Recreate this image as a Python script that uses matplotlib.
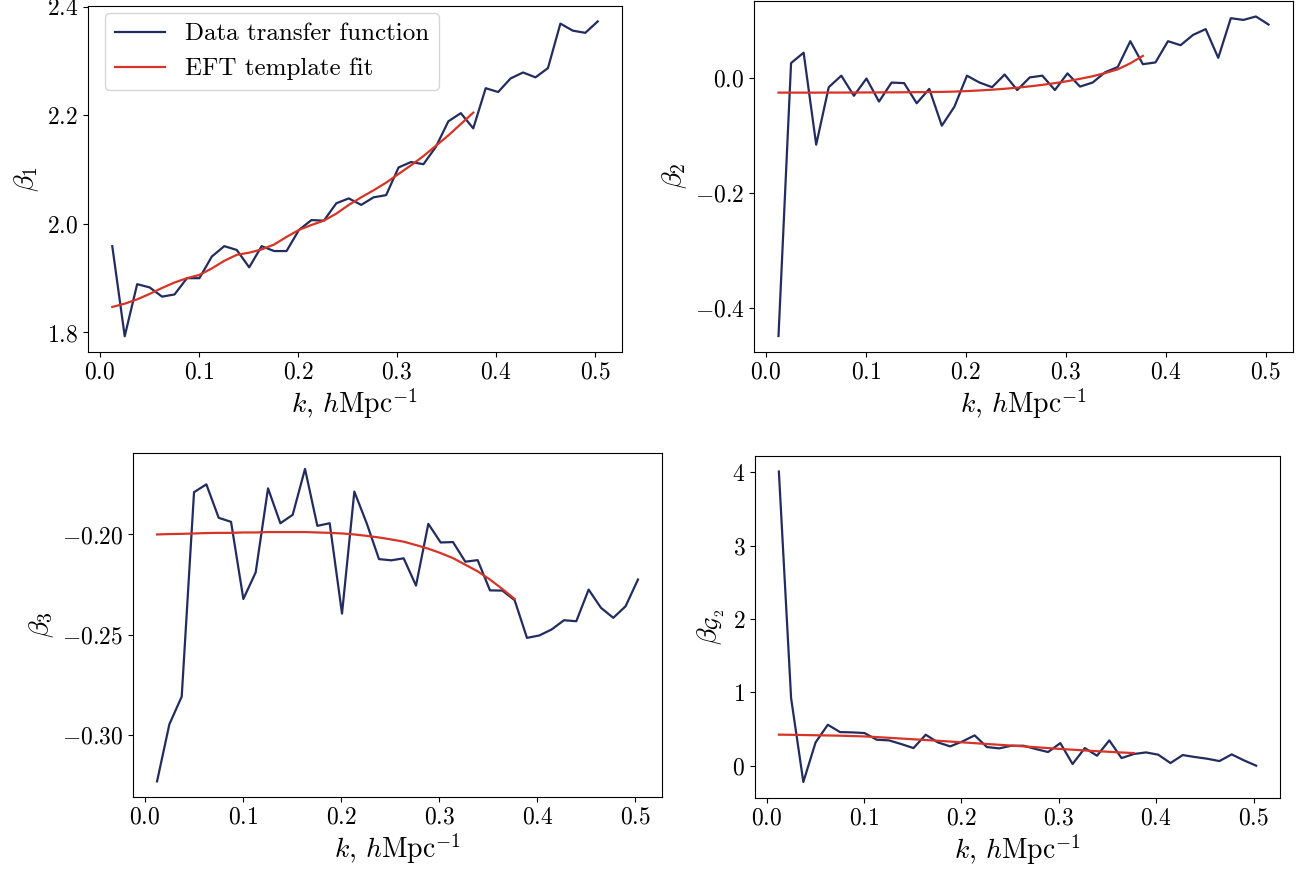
#!/usr/bin/env python3
"""Transfer functions beta_i(k) from data vs EFT template fit, 2x2 panels."""
import matplotlib
matplotlib.use('Agg')
import matplotlib.pyplot as plt
import numpy as np

plt.rcParams.update({
    'font.family': 'serif',
    'font.serif': ['cmr10'],
    'mathtext.fontset': 'cm',
    'axes.formatter.use_mathtext': True,
    'axes.unicode_minus': True,
    'font.size': 17,
    'xtick.labelsize': 17,
    'ytick.labelsize': 17,
    'axes.labelsize': 20,
    'legend.fontsize': 18,
    'lines.linewidth': 1.6,
})

BLUE = '#232c5e'
RED = '#d63426'

# k bins (fundamental mode of a 500 Mpc/h box), 40 data bins, fit uses first 30
k_data = 2 * np.pi / 500 * np.arange(1, 41)
k_fit = k_data[:30]

# --- beta_1 ---
b1_data = [1.959, 1.793, 1.889, 1.883, 1.866, 1.870, 1.900, 1.900, 1.940, 1.959,
           1.952, 1.920, 1.959, 1.950, 1.950, 1.989, 2.007, 2.006, 2.038, 2.047,
           2.035, 2.049, 2.053, 2.104, 2.114, 2.110, 2.142, 2.189, 2.204, 2.176,
           2.250, 2.243, 2.268, 2.279, 2.270, 2.287, 2.369, 2.356, 2.352, 2.373]
b1_fit = [1.847, 1.853, 1.861, 1.871, 1.882, 1.892, 1.900, 1.906, 1.918, 1.932,
          1.943, 1.947, 1.953, 1.962, 1.976, 1.989, 1.998, 2.006, 2.019, 2.035,
          2.049, 2.062, 2.076, 2.092, 2.108, 2.125, 2.144, 2.163, 2.184, 2.205]

# --- beta_2 ---
b2_data = [-0.449, 0.026, 0.044, -0.116, -0.016, 0.004, -0.031, -0.001, -0.041, -0.008,
           -0.009, -0.044, -0.019, -0.083, -0.050, 0.004, -0.008, -0.016, 0.006, -0.021,
           0.001, 0.004, -0.021, 0.008, -0.015, -0.008, 0.010, 0.019, 0.064, 0.024,
           0.027, 0.064, 0.057, 0.075, 0.085, 0.035, 0.104, 0.101, 0.107, 0.093]
b2_fit = [-0.0255, -0.0255, -0.0255, -0.0255, -0.0254, -0.0254, -0.0253, -0.0252, -0.0251, -0.0250,
          -0.0249, -0.0247, -0.0245, -0.0242, -0.0237, -0.0228, -0.0217, -0.0204, -0.0188, -0.0169,
          -0.0146, -0.0120, -0.0090, -0.0055, -0.0015, 0.0030, 0.0085, 0.0150, 0.0255, 0.0385]

# --- beta_3 ---
b3_data = [-0.3232, -0.2947, -0.2809, -0.1789, -0.1750, -0.1917, -0.1937, -0.2322, -0.2189, -0.1770,
           -0.1944, -0.1902, -0.1673, -0.1957, -0.1944, -0.2395, -0.1786, -0.1944, -0.2123, -0.2129,
           -0.2119, -0.2255, -0.1947, -0.2040, -0.2038, -0.2136, -0.2128, -0.2279, -0.2280, -0.2328,
           -0.2516, -0.2504, -0.2474, -0.2428, -0.2433, -0.2275, -0.2366, -0.2416, -0.2358, -0.2225]
b3_fit = [-0.2000, -0.1998, -0.1997, -0.1995, -0.1993, -0.1992, -0.1992, -0.1990, -0.1990, -0.1988,
          -0.1988, -0.1988, -0.1988, -0.1990, -0.1992, -0.1995, -0.2000, -0.2007, -0.2015, -0.2025,
          -0.2036, -0.2053, -0.2071, -0.2093, -0.2118, -0.2151, -0.2184, -0.2225, -0.2272, -0.2322]

# --- beta_G2 ---
bg2_data = [4.01, 0.921, -0.222, 0.317, 0.558, 0.458, 0.454, 0.445, 0.354, 0.345,
            0.295, 0.240, 0.422, 0.317, 0.263, 0.331, 0.413, 0.254, 0.236, 0.272,
            0.272, 0.227, 0.186, 0.308, 0.023, 0.240, 0.136, 0.345, 0.104, 0.159,
            0.181, 0.150, 0.036, 0.145, 0.118, 0.095, 0.063, 0.154, 0.073, 0.000]
bg2_fit = [0.423, 0.421, 0.418, 0.415, 0.412, 0.409, 0.404, 0.399, 0.390, 0.380,
           0.370, 0.360, 0.350, 0.340, 0.329, 0.318, 0.307, 0.296, 0.285, 0.274,
           0.263, 0.252, 0.240, 0.228, 0.218, 0.208, 0.198, 0.189, 0.180, 0.172]

panels = [
    (b1_data, b1_fit, r'$\beta_1$', [1.8, 2.0, 2.2, 2.4]),
    (b2_data, b2_fit, r'$\beta_2$', [-0.4, -0.2, 0.0]),
    (b3_data, b3_fit, r'$\beta_3$', [-0.30, -0.25, -0.20]),
    (bg2_data, bg2_fit, r'$\beta_{\mathcal{G}_2}$', [0, 1, 2, 3, 4]),
]

W, H = 1307, 875
# axes boxes in pixels: left, right, top, bottom
boxes = [(88, 622, 5.7, 352), (754, 1293, 0.5, 352),
         (133, 662, 453.3, 797), (755, 1280, 456, 797.5)]

fig = plt.figure(figsize=(W / 100, H / 100), dpi=100)

for (data, fit, ylabel, yticks), (l, r, t, b) in zip(panels, boxes):
    ax = fig.add_axes([l / W, 1 - b / H, (r - l) / W, (b - t) / H])
    ax.plot(k_data, data, color=BLUE, label='Data transfer function')
    ax.plot(k_fit, fit, color=RED, label='EFT template fit')
    ax.set_xticks([0.0, 0.1, 0.2, 0.3, 0.4, 0.5])
    ax.set_yticks(yticks)
    ax.set_xlabel(r'$k$, $h\mathrm{Mpc}^{-1}$', labelpad=2)
    ax.set_ylabel(ylabel)
    if ylabel == r'$\beta_1$':
        ax.legend(loc='upper left', bbox_to_anchor=(0.032, 0.979), borderaxespad=0)

plt.savefig('out.png', dpi=100)
